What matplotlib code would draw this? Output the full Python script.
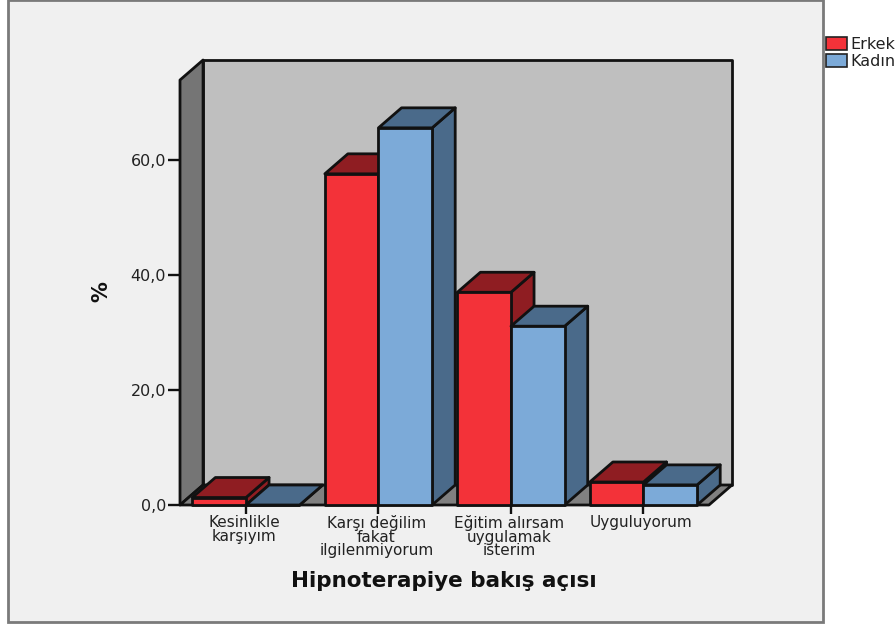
import numpy as np
import matplotlib
matplotlib.use('Agg')
import matplotlib.pyplot as plt
from matplotlib.patches import Polygon, Patch, Rectangle
from matplotlib.transforms import ScaledTranslation

categories = ['Kesinlikle\nkarşıyım', 'Karşı değilim\nfakat\nilgilenmiyorum',
              'Eğitim alırsam\nuygulamak\nisterim', 'Uyguluyorum']
erkek = [1.3, 57.6, 37.0, 4.0]
kadin = [0.0, 65.6, 31.1, 3.5]
y_ticks = [0, 20, 40, 60]
y_labels = ['0,0', '20,0', '40,0', '60,0']

W, H = 896, 626
RED, RED_DARK = '#f33239', '#8f1d22'
BLUE, BLUE_DARK = '#7caad8', '#4a6a8a'

# one x unit = one category, 132.5 px; one y unit = 1 %, 5.75 px
x_min, x_max = -0.498, 3.668
y_max = 77.4
dx, dy = 0.174, 3.48       # depth of the fake 3d box
wall_top = y_max - dy
bar_w = 0.405


def poly(ax, pts, color, z=2):
    ax.add_patch(Polygon(pts, closed=True, facecolor=color, edgecolor='#111111',
                         linewidth=2, joinstyle='round', clip_on=False, zorder=z))


def box(ax, x0, x1, h, front, dark, z):
    poly(ax, [(x1, 0), (x1 + dx, dy), (x1 + dx, h + dy), (x1, h)], dark, z)
    poly(ax, [(x0, h), (x1, h), (x1 + dx, h + dy), (x0 + dx, h + dy)], dark, z)
    poly(ax, [(x0, 0), (x1, 0), (x1, h), (x0, h)], front, z)


fig = plt.figure(figsize=(W / 100, H / 100), dpi=100, facecolor='white')
fig.add_artist(Rectangle((8 / W, 1 - 622 / H), 815 / W, 622 / H, transform=fig.transFigure,
                         facecolor='#f0f0f0', edgecolor='#7a7a7a', linewidth=2, zorder=-1))

ax = fig.add_axes([180 / W, 1 - 505 / H, 552 / W, 445 / H])
ax.patch.set_visible(False)
ax.set_xlim(x_min, x_max)
ax.set_ylim(0, y_max)
for s in ax.spines.values():
    s.set_visible(False)

right = x_max - dx
# back wall, left wall, floor
poly(ax, [(x_min + dx, dy), (x_max, dy), (x_max, y_max), (x_min + dx, y_max)], '#bfbfbf', 1)
poly(ax, [(x_min, 0), (x_min + dx, dy), (x_min + dx, y_max), (x_min, wall_top)], '#757575', 1)
poly(ax, [(x_min, 0), (right, 0), (x_max, dy), (x_min + dx, dy)], '#808080', 1)

for i in range(len(categories)):
    box(ax, i - bar_w, i, erkek[i], RED, RED_DARK, 3 + 2 * i)
    box(ax, i, i + bar_w, kadin[i], BLUE, BLUE_DARK, 4 + 2 * i)

ax.set_yticks(y_ticks, y_labels, fontsize=11.5, color='#222222')
ax.set_xticks(range(len(categories)), categories, fontsize=11, color='#222222', linespacing=0.85)
ax.tick_params(axis='y', length=9, width=1.7, color='#111111', pad=1)
ax.tick_params(axis='x', length=6.5, width=1.7, color='#111111', pad=1)

# labels sit slightly left of their ticks in the original
shift = ScaledTranslation(-2 / 100, 0, fig.dpi_scale_trans)
for lab in ax.get_xticklabels():
    lab.set_transform(lab.get_transform() + shift)

fig.text(101 / W, 1 - 292 / H, '%', rotation=90, fontsize=15, fontweight='bold',
         ha='center', va='center', color='#111111')
fig.text(444 / W, 1 - 581 / H, 'Hipnoterapiye bakış açısı', fontsize=15.5, fontweight='bold',
         ha='center', va='center', color='#111111')

handles = [Patch(facecolor=RED, edgecolor='#222222', linewidth=1.2, label='Erkek'),
           Patch(facecolor=BLUE, edgecolor='#222222', linewidth=1.2, label='Kadın')]
fig.legend(handles=handles, loc='upper left', bbox_to_anchor=(823 / W, 1 - 34 / H), frameon=False,
           fontsize=11.5, handlelength=1.3, handleheight=0.85, handletextpad=0.2,
           labelspacing=0.12, borderpad=0.2, borderaxespad=0, labelcolor='#222222')

fig.savefig('out.png', dpi=100)
